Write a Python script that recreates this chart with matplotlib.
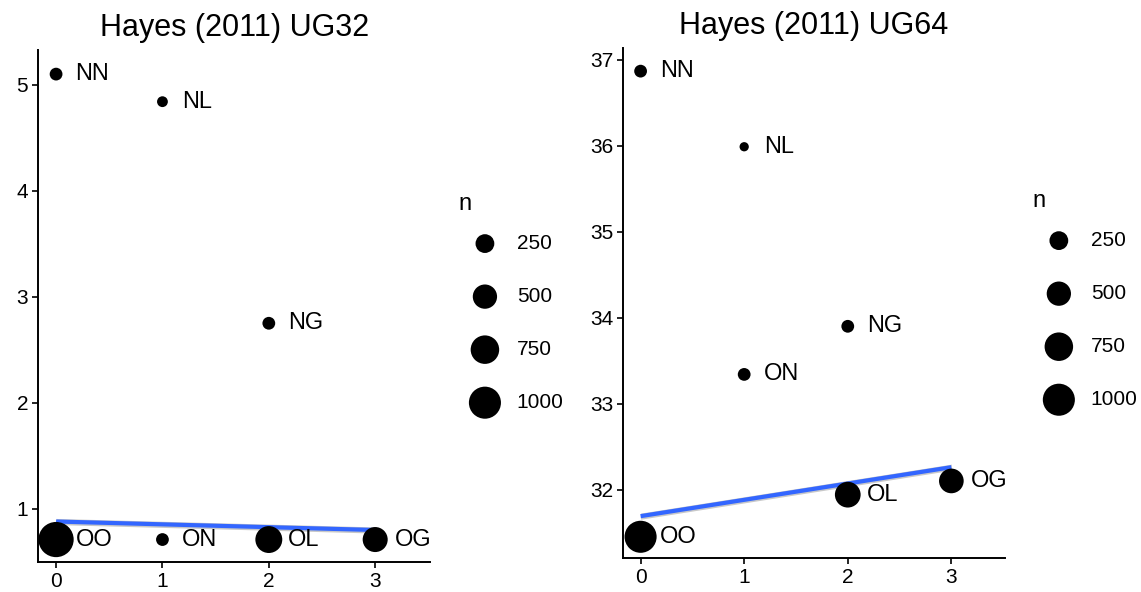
import numpy as np
import matplotlib.pyplot as plt

plt.rcParams['font.family'] = ['Liberation Sans', 'DejaVu Sans']

# condition labels and x positions
labels = ["NN", "NL", "NG", "OO", "ON", "OL", "OG"]
x_vals = [0, 1, 2, 0, 1, 2, 3]

# Hayes (2011) UG32
ug32_y = [5.10, 4.84, 2.75, 0.71, 0.71, 0.71, 0.71]
ug32_n = [75, 40, 75, 1250, 75, 650, 540]
ug32_fit = [0.88, 0.80]   # fitted line at x=0 and x=3

# Hayes (2011) UG64
ug64_y = [36.87, 35.99, 33.90, 31.45, 33.34, 31.94, 32.10]
ug64_n = [75, 20, 75, 1000, 75, 580, 520]
ug64_fit = [31.69, 32.26]

legend_n = [250, 500, 750, 1000]


def diam_px(n):
    return 5.5 + 0.84 * np.sqrt(np.asarray(n, dtype=float))


def msize(n):
    return (diam_px(n) * 0.72) ** 2


fig = plt.figure(figsize=(11.41, 5.92), dpi=100)


def panel(rect, title, y, n, fit, ylim, yticks, leg_rect):
    ax = fig.add_axes(rect)
    ax.scatter(x_vals, y, s=msize(n), color='black', zorder=3, linewidths=0)
    fx = np.array([0, 3])
    fy = np.array(fit)
    band = 0.006 * (ylim[1] - ylim[0])
    ax.fill_between(fx, fy - band, fy + band, color='#bbbbbb', alpha=0.8, zorder=2, linewidth=0)
    ax.plot(fx, fy, color='#3366FF', lw=3, zorder=2.5, solid_capstyle='butt')
    for xi, yi, lab in zip(x_vals, y, labels):
        ax.annotate(lab, (xi, yi), xytext=(14, 0), textcoords='offset points',
                    va='center', ha='left', fontsize=17)
    ax.set_xlim(-0.17, 3.52)
    ax.set_ylim(*ylim)
    ax.set_xticks([0, 1, 2, 3])
    ax.set_yticks(yticks)
    for s in ['top', 'right']:
        ax.spines[s].set_visible(False)
    for s in ['left', 'bottom']:
        ax.spines[s].set_linewidth(1.4)
    ax.tick_params(direction='out', length=4, width=1.2, labelsize=15, colors='black', pad=3)
    ax.set_title(title, fontsize=22, pad=10)

    lax = fig.add_axes(leg_rect)
    ly = np.arange(len(legend_n))[::-1]
    lax.scatter([0] * len(legend_n), ly, s=msize(legend_n), color='black', linewidths=0)
    for yy, v in zip(ly, legend_n):
        lax.text(1.12, yy, str(v), va='center', ha='left', fontsize=15)
    lax.text(-0.92, len(legend_n) - 0.25, "n", fontsize=17, va='center', ha='left')
    lax.set_xlim(-1, 3)
    lax.set_ylim(-0.5, len(legend_n) + 0.3)
    lax.axis('off')
    return ax


panel([0.0333, 0.051, 0.344, 0.865], "Hayes (2011) UG32", ug32_y, ug32_n, ug32_fit,
      (0.5, 5.33), [1, 2, 3, 4, 5], [0.400, 0.275, 0.10, 0.43])
panel([0.546, 0.057, 0.335, 0.862], "Hayes (2011) UG64", ug64_y, ug64_n, ug64_fit,
      (31.2, 37.14), [32, 33, 34, 35, 36, 37], [0.903, 0.280, 0.10, 0.43])

fig.savefig("out.png", dpi=100)
